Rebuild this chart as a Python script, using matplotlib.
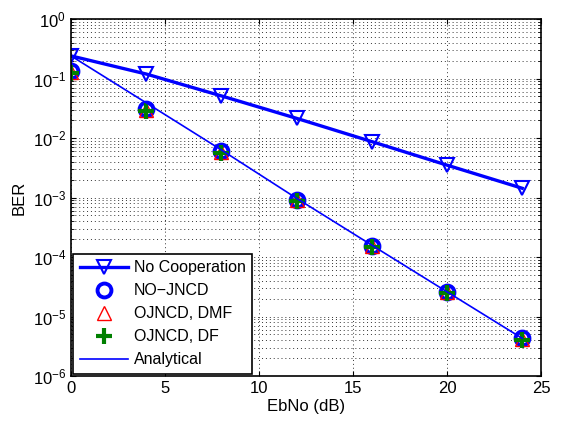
import numpy as np
import matplotlib
matplotlib.use('Agg')
import matplotlib.pyplot as plt
from matplotlib.ticker import NullFormatter

plt.rcParams['font.family'] = ['Liberation Sans', 'DejaVu Sans']
plt.rcParams['mathtext.fontset'] = 'custom'
plt.rcParams['mathtext.rm'] = 'Liberation Sans'

# EbNo points (dB)
ebno = [0, 4, 8, 12, 16, 20, 24]

# BER values
ber_nocoop = [0.24, 0.119, 0.051, 0.0214, 0.0087, 0.0035, 0.00143]
ber_nojncd = [0.134, 0.0307, 0.0061, 0.00091, 0.000155, 2.6e-5, 4.3e-6]
ber_dmf = [0.13, 0.030, 0.0059, 0.00090, 0.000152, 2.55e-5, 4.25e-6]
ber_df = [0.124, 0.0285, 0.0055, 0.00086, 0.000148, 2.45e-5, 4.1e-6]
ber_analytical = [0.24, 0.039, 0.0063, 0.00097, 0.000158, 2.6e-5, 4.3e-6]

fig = plt.figure(figsize=(5.64, 4.24), dpi=100)
ax = fig.add_axes([71/564, 1 - 376/424, (541-71)/564, (376-19)/424])

ax.semilogy(ebno, ber_nocoop, '-v', color='blue', lw=2.4, ms=10,
            mfc='none', mew=1.5, label='No Cooperation')
ax.semilogy(ebno, ber_nojncd, 'o', color='blue', ms=10,
            mfc='none', mew=2.8, label='NO\u2212JNCD')
ax.semilogy(ebno, ber_dmf, '^', color='red', ms=10,
            mfc='none', mew=1, label='OJNCD, DMF')
ax.semilogy(ebno, ber_df, '+', color=(0, 0.5, 0), ms=11,
            mew=3, label='OJNCD, DF')
ax.semilogy(ebno, ber_analytical, '-', color='blue', lw=1.2,
            label='Analytical')

ax.set_xlim(0, 25)
ax.set_ylim(1e-6, 1)
ax.set_xticks([0, 5, 10, 15, 20, 25])
ax.yaxis.set_minor_formatter(NullFormatter())
ax.grid(True, which='major', ls=(0, (1, 3)), color='k', lw=0.7, alpha=0.8)
ax.grid(True, which='minor', axis='y', ls=(0, (1, 3)), color='k', lw=0.7, alpha=0.8)
ax.tick_params(which='both', direction='in', top=True, right=True, labelsize=12)
ax.tick_params(which='minor', axis='x', bottom=False, top=False)
for s in ax.spines.values():
    s.set_linewidth(1.2)

ax.set_xlabel('EbNo (dB)', fontsize=12, labelpad=2)
ax.set_ylabel('BER', fontsize=12)

leg = ax.legend(loc='lower left', fontsize=11.5, frameon=True, fancybox=False,
                edgecolor='black', framealpha=1, borderaxespad=0.15,
                handlelength=3.0, handletextpad=0.4, labelspacing=0.5,
                borderpad=0.4)
leg.get_frame().set_linewidth(1.2)

fig.savefig('out.png', dpi=100)
